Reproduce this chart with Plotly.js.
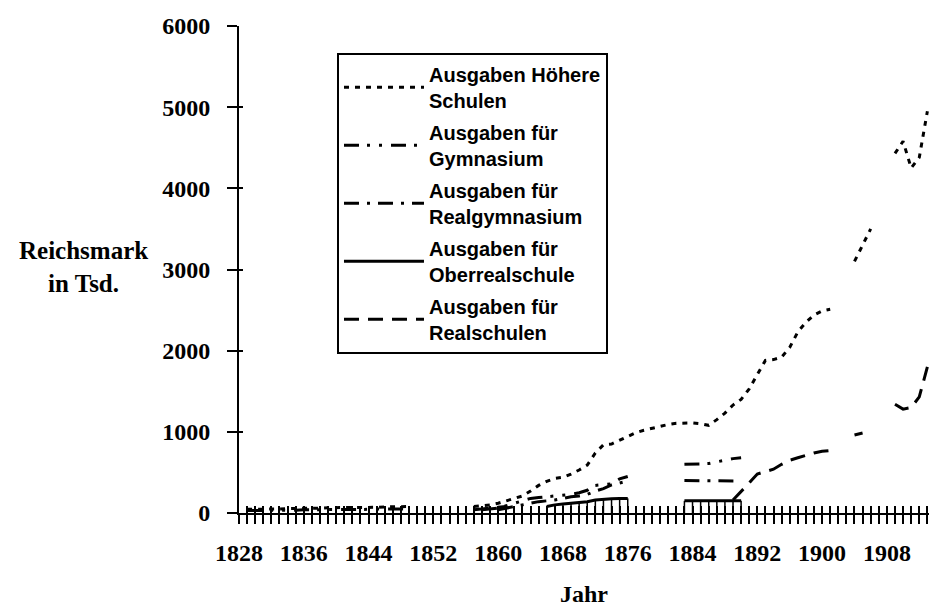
<!DOCTYPE html>
<html>
<head>
<meta charset="utf-8">
<script src="https://cdn.plot.ly/plotly-3.0.1.min.js"></script>
<style>html,body{margin:0;padding:0;background:#fff}#chart{width:935px;height:608px}</style>
</head>
<body>
<div id="chart"></div>
<script>
const years = [1828,1829,1830,1831,1832,1833,1834,1835,1836,1837,1838,1839,1840,1841,1842,1843,1844,1845,1846,1847,1848,1849,1850,1851,1852,1853,1854,1855,1856,1857,1858,1859,1860,1861,1862,1863,1864,1865,1866,1867,1868,1869,1870,1871,1872,1873,1874,1875,1876,1877,1878,1879,1880,1881,1882,1883,1884,1885,1886,1887,1888,1889,1890,1891,1892,1893,1894,1895,1896,1897,1898,1899,1900,1901,1902,1903,1904,1905,1906,1907,1908,1909,1910,1911,1912,1913];
const labelYears = [1828,1836,1844,1852,1860,1868,1876,1884,1892,1900,1908];

const hoehere = [null,
  45,45,50,50,50,55,55,55,60,60,65,65,70,70,70,70,70,75,75,75,80,
  null,null,null,null,null,null,null,
  80,90,100,120,150,175,210,270,340,390,425,440,480,530,590,740,840,850,900,940,990,1020,1045,1065,1090,1105,1110,1110,1100,1080,1150,1230,1330,1400,1530,1700,1880,1890,1920,2040,2230,2350,2440,2490,2510,
  null,null,3100,3300,3500,null,null,4430,4580,4250,4380,4950];

const gymnasium = [null,
  30,30,30,35,35,35,35,40,40,40,40,45,45,45,45,45,50,50,50,50,50,
  null,null,null,null,null,null,null,null,
  40,50,60,90,120,150,180,190,200,210,215,230,250,280,340,350,360,420,450,
  null,null,null,null,null,null,
  600,600,605,610,630,650,670,680,
  null,null,null,null,null,null,null,null,null,null,null,null,null,null,null,null,null,null,null,null,null,null,null];

const realgymnasium = [null,null,null,null,null,null,null,null,null,null,null,null,null,null,null,null,null,null,null,null,null,null,null,null,null,null,null,null,null,null,null,null,
  40,60,80,100,120,140,150,160,180,200,210,230,270,300,345,370,395,
  null,null,null,null,null,null,
  400,400,395,395,395,395,395,395,
  null,null,null,null,null,null,null,null,null,null,null,null,null,null,null,null,null,null,null,null,null,null,null];

const oberreal = [null,null,null,null,null,null,null,null,null,null,null,null,null,null,null,null,null,null,null,null,null,null,null,null,null,null,null,null,null,null,null,null,null,null,null,null,null,null,
  80,100,110,120,130,140,160,170,175,180,180,
  null,null,null,null,null,null,
  150,150,150,150,150,150,150,150,
  null,null,null,null,null,null,null,null,null,null,null,null,null,null,null,null,null,null,null,null,null,null,null];

const realschulen = [null,null,null,null,null,null,null,null,null,null,null,null,null,null,null,null,null,null,null,null,null,null,null,null,null,null,null,null,null,
  40,50,60,70,80,
  null,null,null,null,null,null,null,null,null,null,null,null,null,null,null,null,null,null,null,null,null,null,null,null,null,null,null,
  160,260,370,480,510,540,600,650,680,710,740,760,770,
  null,null,960,985,null,null,null,1340,1280,1300,1430,1800];

const names = ['Ausgaben Höhere<br>Schulen','Ausgaben für<br>Gymnasium','Ausgaben für<br>Realgymnasium','Ausgaben für<br>Oberrealschule','Ausgaben für<br>Realschulen'];
const yTicks = [0,1000,2000,3000,4000,5000,6000];

const ticktext = years.map(y => labelYears.includes(y) ? String(y) : '');
const serif = {family:'Liberation Serif, Times New Roman, serif', size:24, color:'#000', weight:'bold'};

function line(y, name, dash, grp, extra) {
  return Object.assign({x: years, y: y, name: name, type:'scatter', mode:'lines', connectgaps:false,
    legendgroup: grp, line:{color:'#000', width:3, dash: dash}, hoverinfo:'skip'}, extra||{});
}

const traces = [
  line(hoehere, names[0], '5px,6px', 'a'),
  line(gymnasium, names[1], '15px,8px,3px,9px,3px,9px', 'b'),
  line(realgymnasium, names[2], '15px,8px,3px,8px', 'c'),
  line(oberreal, names[3], 'solid', 'd', {error_y:{type:'data', symmetric:false, array: oberreal.map(()=>0), arrayminus: oberreal, width:0, thickness:1.5, color:'#000'}}),
  line(realschulen, names[4], '15px,9px', 'e'),
  {x:[null], y:[null], xaxis:'x2', yaxis:'y', showlegend:false, hoverinfo:'skip', type:'scatter'},
  {x:[null], y:[null], xaxis:'x', yaxis:'y2', showlegend:false, hoverinfo:'skip', type:'scatter'}
];

const xr = [1828, 1913.2];
const layout = {
  width:935, height:608,
  margin:{l:239, r:6, t:26, b:95},
  paper_bgcolor:'#fff', plot_bgcolor:'#fff',
  showlegend:true,
  xaxis:{range:xr, tickmode:'array', tickvals:years, ticktext:ticktext, ticks:'outside', ticklen:9, tickwidth:2, tickcolor:'#000',
    showline:true, linewidth:2, linecolor:'#000', showgrid:false, zeroline:false, tickfont:serif, ticklabelstandoff:8,
    title:{text:'Jahr', font:serif, standoff:20}},
  xaxis2:{range:xr, overlaying:'x', anchor:'y', tickmode:'array', tickvals:years, ticks:'inside', ticklen:7, tickwidth:2, tickcolor:'#000',
    showticklabels:false, showline:false, showgrid:false, zeroline:false},
  yaxis:{range:[0,6000], tickmode:'array', tickvals:yTicks, ticks:'outside', ticklen:10, tickwidth:2, tickcolor:'#000',
    showline:true, linewidth:2, linecolor:'#000', showgrid:false, zeroline:false, tickfont:serif, ticklabelstandoff:12},
  yaxis2:{range:[0,6000], overlaying:'y', anchor:'x', side:'left', tickmode:'array', tickvals:yTicks, ticks:'inside', ticklen:4, tickwidth:2, tickcolor:'#000',
    showticklabels:false, showline:false, showgrid:false, zeroline:false},
  legend:{x:0.142, y:0.945, xanchor:'left', yanchor:'top', bgcolor:'#fff', bordercolor:'#000', borderwidth:2,
    font:{family:'Liberation Sans, Arial, sans-serif', size:20, color:'#000', weight:'bold'},
    traceorder:'grouped', tracegroupgap:3, itemwidth:80},
  annotations:[{xref:'paper', yref:'paper', x:-0.225, y:0.505, xanchor:'center', yanchor:'middle', showarrow:false,
    text:'Reichsmark<br>in Tsd.', font:Object.assign({}, serif, {size:25}), align:'center'}]
};

Plotly.newPlot('chart', traces, layout, {displayModeBar:false, staticPlot:true});
</script>
</body>
</html>
